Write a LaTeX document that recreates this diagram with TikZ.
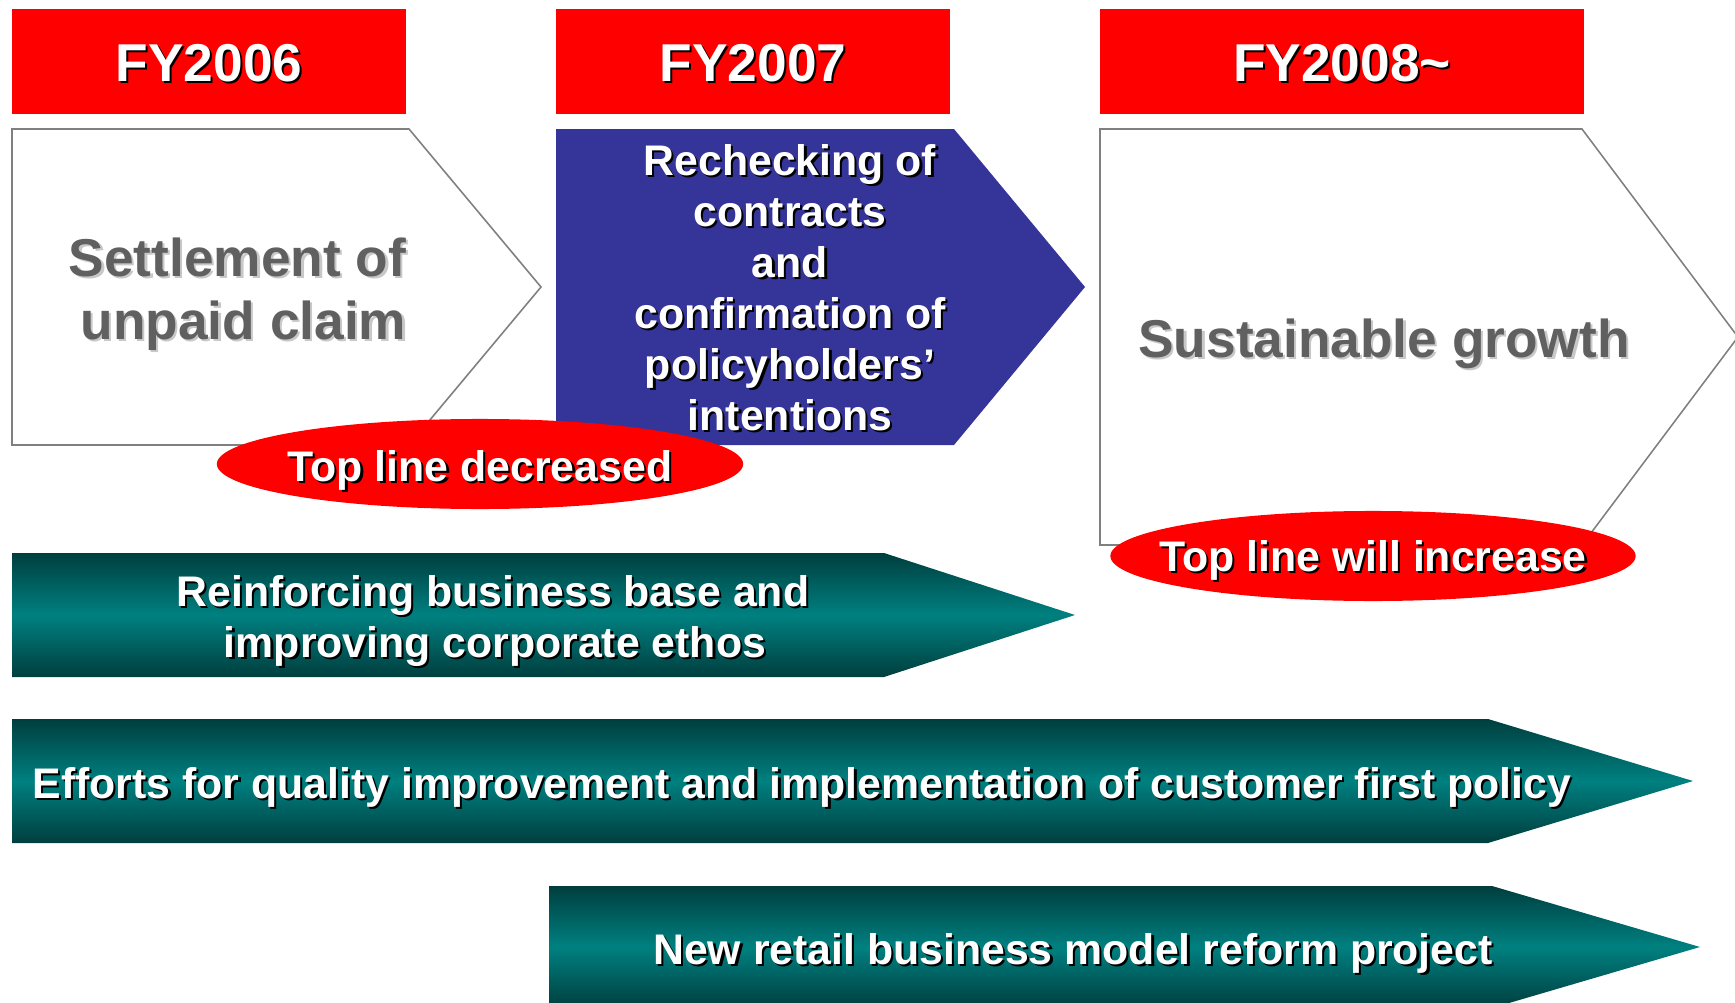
\documentclass[tikz,border=0pt]{standalone}
\usepackage{fontspec}
\setmainfont{Liberation Sans}
\usetikzlibrary{shapes.geometric}

\definecolor{hdred}{HTML}{FF0000}
\definecolor{stepblue}{HTML}{353599}
\definecolor{greytext}{HTML}{606060}
\definecolor{greyshade}{HTML}{C8C8C8}
\definecolor{framegrey}{HTML}{808080}
\definecolor{tealdark}{HTML}{003E3E}
\definecolor{tealmid}{HTML}{008080}

% text with a drop shadow: #1 text style, #2 shadow style, #3 name, #4 position, #5 text
\newcommand{\castnode}[5]{%
  \node[#1,#2,xshift=0.022cm,yshift=-0.022cm] (#3-shade) at (#4) {#5};
  \node[#1] (#3) at (#4) {#5};}

\begin{document}
\begin{tikzpicture}[x=0.01cm,y=-0.01cm,
  yearbox/.style={fill=hdred,draw=none},
  openstage/.style={fill=white,draw=framegrey,line width=0.45pt,line join=miter},
  bluestage/.style={fill=stepblue,draw=none},
  oval/.style={ellipse,fill=hdred,draw=none,minimum width=5.26cm,minimum height=0.9cm,inner sep=0pt},
  band/.style={top color=tealdark,bottom color=tealdark,middle color=tealmid,draw=none},
  txt/.style={inner sep=0pt,anchor=base},
  bigtxt/.style={txt,font=\fontsize{15.15}{18}\selectfont\bfseries},
  smalltxt/.style={txt,font=\fontsize{12.17}{14.5}\selectfont\bfseries},
  whitetxt/.style={text=white},
  greytxt/.style={text=greytext},
  darkcast/.style={text=black},
  lightcast/.style={text=greyshade}]

\useasboundingbox (0,0) rectangle (1735,1003);
\clip (0,0) rectangle (1735,1003);

% year headers
\fill[yearbox] (12,9) rectangle (406,114);
\fill[yearbox] (556,9) rectangle (950,114);
\fill[yearbox] (1100,9) rectangle (1584,114);
\castnode{bigtxt,whitetxt}{darkcast}{y6}{209,81}{FY2006}
\castnode{bigtxt,whitetxt}{darkcast}{y7}{753,81}{FY2007}
\castnode{bigtxt,whitetxt}{darkcast}{y8}{1342,81}{FY2008\textasciitilde}

% stage pentagons
\coordinate (p1a) at (12,129);  \coordinate (p1b) at (409,129);
\coordinate (p1c) at (541,287); \coordinate (p1d) at (409,445);
\coordinate (p1e) at (12,445);
\path[openstage] (p1a) -- (p1b) -- (p1c) -- (p1d) -- (p1e) -- cycle;

\coordinate (p2a) at (556,129);  \coordinate (p2b) at (954,129);
\coordinate (p2c) at (1085,287); \coordinate (p2d) at (954,445);
\coordinate (p2e) at (556,445);
\path[bluestage] (p2a) -- (p2b) -- (p2c) -- (p2d) -- (p2e) -- cycle;

\coordinate (p3a) at (1100,129); \coordinate (p3b) at (1582,129);
\coordinate (p3c) at (1738,337); \coordinate (p3d) at (1582,545);
\coordinate (p3e) at (1100,545);
\path[openstage] (p3a) -- (p3b) -- (p3c) -- (p3d) -- (p3e) -- cycle;

% stage texts
\castnode{bigtxt,greytxt,anchor=base east}{lightcast}{s1}{407,276}{Settlement of}
\castnode{bigtxt,greytxt,anchor=base east}{lightcast}{s2}{407,339}{unpaid claim}

\castnode{smalltxt,whitetxt}{darkcast}{r1}{790,175}{Rechecking of}
\castnode{smalltxt,whitetxt}{darkcast}{r2}{790,226}{contracts}
\castnode{smalltxt,whitetxt}{darkcast}{r3}{790,277}{and}
\castnode{smalltxt,whitetxt}{darkcast}{r4}{790,328}{confirmation of}
\castnode{smalltxt,whitetxt}{darkcast}{r5}{790,379.5}{policyholders’}
\castnode{smalltxt,whitetxt}{darkcast}{r6}{790,430.5}{intentions}

\castnode{bigtxt,greytxt}{lightcast}{g1}{1384,357}{Sustainable growth}

% top line ovals
\node[oval] (ov1) at (480,464) {};
\node[oval,minimum width=5.25cm] (ov2) at (1373,556) {};
\castnode{smalltxt,whitetxt}{darkcast}{o1}{480,481}{Top line decreased}
\castnode{smalltxt,whitetxt}{darkcast}{o2}{1373,571}{Top line will increase}

% policy bands
\coordinate (a1a) at (12,553);   \coordinate (a1b) at (884,553);
\coordinate (a1c) at (1075,615); \coordinate (a1d) at (884,677);
\coordinate (a1e) at (12,677);
\shade[band] (a1a) -- (a1b) -- (a1c) -- (a1d) -- (a1e) -- cycle;

\coordinate (a2a) at (12,719);   \coordinate (a2b) at (1488,719);
\coordinate (a2c) at (1693,781); \coordinate (a2d) at (1488,843);
\coordinate (a2e) at (12,843);
\shade[band] (a2a) -- (a2b) -- (a2c) -- (a2d) -- (a2e) -- cycle;

\coordinate (a3a) at (549,886);  \coordinate (a3b) at (1492,886);
\coordinate (a3c) at (1700,947); \coordinate (a3d) at (1492,1008);
\coordinate (a3e) at (549,1008);
\shade[band] (a3a) -- (a3b) -- (a3c) -- (a3d) -- (a3e) -- cycle;

\castnode{smalltxt,whitetxt}{darkcast}{b1}{493,606}{Reinforcing business base and}
\castnode{smalltxt,whitetxt}{darkcast}{b2}{495,657}{improving corporate ethos}
\castnode{smalltxt,whitetxt}{darkcast}{b3}{802,798}{Efforts for quality improvement and implementation of customer first policy}
\castnode{smalltxt,whitetxt}{darkcast}{b4}{1073,964}{New retail business model reform project}

\end{tikzpicture}
\end{document}
